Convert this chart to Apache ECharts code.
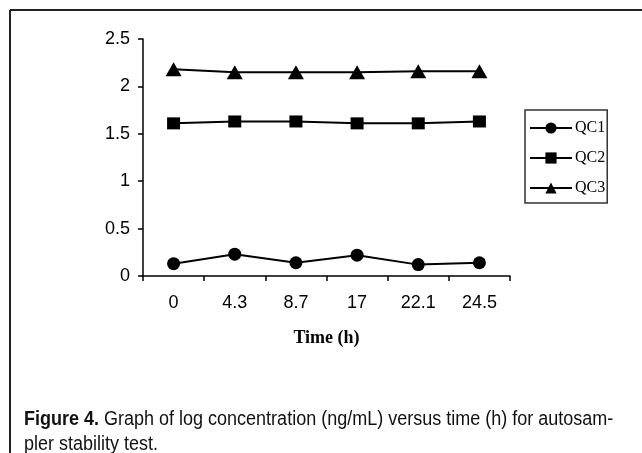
<!DOCTYPE html>
<html>
<head>
<meta charset="utf-8">
<script src="https://cdn.jsdelivr.net/npm/echarts@6/dist/echarts.min.js"></script>
<style>html,body{margin:0;padding:0;background:#fff;}#c{width:642px;height:453px;}</style>
</head>
<body>
<div id="c"></div>
<script>
const categories = ['0', '4.3', '8.7', '17', '22.1', '24.5'];
const qc1 = [0.13, 0.23, 0.14, 0.22, 0.12, 0.14];
const qc2 = [1.61, 1.63, 1.63, 1.61, 1.61, 1.63];
const qc3 = [2.18, 2.15, 2.15, 2.15, 2.16, 2.16];
const seriesNames = ['QC1', 'QC2', 'QC3'];
const yTicks = { min: 0, max: 2.5, interval: 0.5 };
const xTitle = 'Time (h)';
const captionBold = 'Figure 4.';
const captionLine1 = ' Graph of log concentration (ng/mL) versus time (h) for autosam-';
const captionLine2 = 'pler stability test.';

const chart = echarts.init(document.getElementById('c'), null, { renderer: 'canvas' });
const mk = (name, data, symbol, size) => ({
  name, type: 'line', data, symbol, symbolSize: size,
  lineStyle: { color: '#000', width: 2 },
  itemStyle: { color: '#000' },
  animation: false
});
chart.setOption({
  animation: false,
  backgroundColor: '#fff',
  grid: { left: 143, top: 39, right: 132, bottom: 177 },
  xAxis: {
    type: 'category', data: categories, boundaryGap: true,
    axisLine: { lineStyle: { color: '#000', width: 1.5 } },
    axisTick: { show: true, length: 5, lineStyle: { color: '#000', width: 1.5 } },
    axisLabel: { color: '#000', fontFamily: 'Liberation Sans', fontSize: 18, margin: 18 },
    name: xTitle, nameLocation: 'middle', nameGap: 53,
    nameTextStyle: { color: '#000', fontFamily: 'Liberation Serif', fontWeight: 'bold', fontSize: 18 }
  },
  yAxis: {
    type: 'value', min: yTicks.min, max: yTicks.max, interval: yTicks.interval,
    axisLine: { show: true, lineStyle: { color: '#000', width: 1.5 } },
    axisTick: { show: true, length: 5, lineStyle: { color: '#000', width: 1.5 } },
    axisLabel: { color: '#000', fontFamily: 'Liberation Sans', fontSize: 18, margin: 13 },
    splitLine: { show: false }
  },
  legend: {
    orient: 'vertical', left: 525, top: 110,
    data: seriesNames,
    itemWidth: 42, itemHeight: 14, itemGap: 14,
    padding: [10, 2, 7, 4],
    borderColor: '#333', borderWidth: 1.5,
    textStyle: { color: '#000', fontFamily: 'Liberation Serif', fontSize: 16, padding: [0, 0, 0, -2] }
  },
  series: [
    mk(seriesNames[0], qc1, 'circle', 13),
    mk(seriesNames[1], qc2, 'rect', [13, 12]),
    mk(seriesNames[2], qc3, 'triangle', [16, 14])
  ],
  graphic: [
    { type: 'line', shape: { x1: 10, y1: 10, x2: 642, y2: 10 }, style: { stroke: '#222', lineWidth: 2 } },
    { type: 'line', shape: { x1: 10, y1: 10, x2: 10, y2: 453 }, style: { stroke: '#222', lineWidth: 2 } },
    { type: 'text', x: 24, y: 407, scaleX: 0.9,
      style: { text: '{b|' + captionBold + '}' + captionLine1 + '\n' + captionLine2,
        font: '20px "Liberation Sans"', fill: '#111', lineHeight: 25,
        rich: { b: { fontWeight: 'bold', fontSize: 20, fontFamily: 'Liberation Sans', fill: '#111' } } } }
  ]
});
</script>
</body>
</html>
